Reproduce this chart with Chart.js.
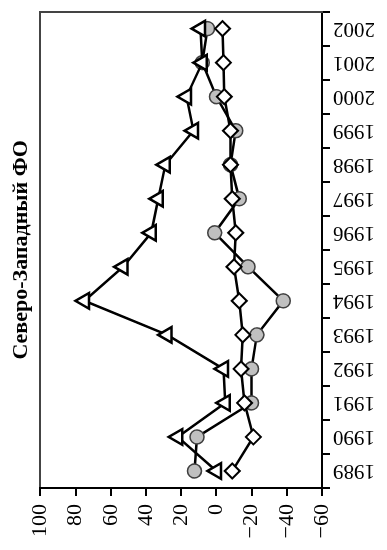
<!DOCTYPE html>
<html>
<head>
<meta charset="utf-8">
<script src="https://cdn.jsdelivr.net/npm/chart.js@4.4.1/dist/chart.umd.min.js"></script>
<style>
  html, body { margin: 0; padding: 0; background: #fff; overflow: hidden; }
  /* chart is drawn landscape and turned a quarter turn, like the scanned figure */
  #wrap { position: absolute; left: 0; top: 550px; width: 550px; height: 387px;
          transform-origin: 0 0; transform: rotate(-90deg); }
</style>
</head>
<body>
<div id="wrap"><canvas id="chart" width="550" height="387"></canvas></div>
<script>
const years = ['1989', '1990', '1991', '1992', '1993', '1994', '1995',
               '1996', '1997', '1998', '1999', '2000', '2001', '2002'];
const triangleSeries = [0, 22, -5, -4, 28, 75, 53, 37, 33, 29, 13, 17, 8, 9];
const circleSeries = [12.5, 11, -20, -20, -23, -38, -18, 1, -13, -8, -11, 0, 8, 5];
const diamondSeries = [-9, -21, -16, -14, -15, -13, -10, -11, -9, -8, -8, -4.5, -4, -3.5];
const yTicks = { min: -60, max: 100, step: 20 };
const chartTitle = 'Северо-Западный ФО';

Chart.defaults.font.family = '"Liberation Serif", "Times New Roman", serif';
Chart.defaults.color = '#000';

const ctx = document.getElementById('chart').getContext('2d');
new Chart(ctx, {
    type: 'line',
    data: {
        labels: years,
        datasets: [
            {
                data: triangleSeries,
                order: 1,
                borderColor: '#000',
                borderWidth: 2.5,
                pointStyle: 'triangle',
                pointRadius: 9,
                pointBackgroundColor: '#fff',
                pointBorderColor: '#000',
                pointBorderWidth: 2.5
            },
            {
                data: diamondSeries,
                order: 2,
                borderColor: '#000',
                borderWidth: 2.5,
                pointStyle: 'rectRot',
                pointRadius: 7.5,
                pointBackgroundColor: '#fff',
                pointBorderColor: '#000',
                pointBorderWidth: 2
            },
            {
                data: circleSeries,
                order: 3,
                borderColor: '#000',
                borderWidth: 2.5,
                pointStyle: 'circle',
                pointRadius: 7,
                pointBackgroundColor: '#c0c0c0',
                pointBorderColor: '#404040',
                pointBorderWidth: 1.5
            }
        ]
    },
    options: {
        responsive: false,
        animation: false,
        layout: { padding: { left: 0, right: 3, top: 0, bottom: 0 } },
        plugins: {
            legend: { display: false },
            tooltip: { enabled: false },
            title: {
                display: true,
                text: chartTitle,
                fullSize: false,
                color: '#000',
                font: { size: 22, weight: 'bold' },
                padding: { top: 8, bottom: 6 }
            }
        },
        scales: {
            x: {
                type: 'category',
                offset: true,
                grid: { offset: true, drawOnChartArea: false, tickLength: 8, color: '#000', lineWidth: 2 },
                border: { color: '#000', width: 2 },
                ticks: { autoSkip: false, minRotation: 90, maxRotation: 90, padding: 3, font: { size: 21 } },
                afterFit: s => { s.height = 65; }
            },
            x2: {
                type: 'category',
                position: 'top',
                offset: true,
                grid: { display: false },
                border: { color: '#444', width: 2 },
                ticks: { display: false },
                afterFit: s => { s.height = 0; }
            },
            y: {
                min: yTicks.min,
                max: yTicks.max,
                grid: { drawOnChartArea: false, tickLength: 8, color: '#000', lineWidth: 2 },
                border: { color: '#000', width: 2 },
                ticks: {
                    stepSize: yTicks.step,
                    padding: 8,
                    font: { size: 22 },
                    callback: v => String(v).replace('-', '\u2212')
                },
                afterFit: s => { s.width = 62; }
            },
            y2: {
                position: 'right',
                min: yTicks.min,
                max: yTicks.max,
                grid: { display: false },
                border: { color: '#444', width: 2 },
                ticks: { display: false },
                afterFit: s => { s.width = 0; }
            }
        }
    }
});
</script>
</body>
</html>
